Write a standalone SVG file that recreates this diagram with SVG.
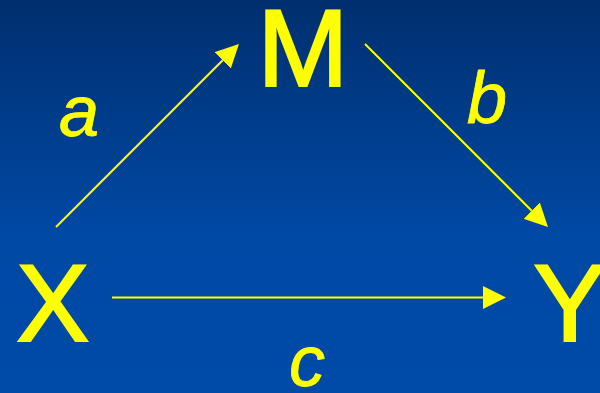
<svg xmlns="http://www.w3.org/2000/svg" width="600" height="393" viewBox="0 0 600 393">
<defs>
<linearGradient id="bg" x1="0" y1="0" x2="0" y2="1">
<stop offset="0" stop-color="#002f6f"/>
<stop offset="0.6" stop-color="#0049a5"/>
<stop offset="1" stop-color="#004aa8"/>
</linearGradient>
<marker id="head" markerUnits="userSpaceOnUse" markerWidth="23" markerHeight="23" refX="0" refY="11.5" orient="auto" viewBox="0 0 23 23">
<path d="M0,0 L23,11.5 L0,23 Z" fill="#ffff00"/>
</marker>
<style>
.node{font-family:"Liberation Sans",Arial,sans-serif;font-size:109px;fill:#ffff00;stroke:#ffff00;stroke-width:2.2;stroke-linejoin:miter}
.lab{font-family:"Liberation Sans",Arial,sans-serif;font-size:72px;font-style:italic;fill:#ffff00;stroke:#ffff00;stroke-width:0.8}
.edge{stroke:#ffff00;stroke-width:2;fill:none;marker-end:url(#head)}
</style>
</defs>
<rect width="600" height="393" fill="url(#bg)"/>
<g id="connectors">
<line class="edge" x1="56" y1="227" x2="222.7" y2="60.3"/>
<line class="edge" x1="365" y1="44" x2="531.7" y2="210.7"/>
<line class="edge" x1="112" y1="297.5" x2="483" y2="297.5"/>
</g>
<g id="node-M"><text class="node" x="257.5" y="85.5">M</text></g>
<g id="node-X"><text class="node" x="16.5" y="340.5">X</text></g>
<g id="node-Y"><text class="node" x="533.5" y="340.5">Y</text></g>
<g id="label-a"><text class="lab" x="59" y="136">a</text></g>
<g id="label-b"><text class="lab" x="467" y="123">b</text></g>
<g id="label-c"><text class="lab" x="289" y="386">c</text></g>
</svg>
